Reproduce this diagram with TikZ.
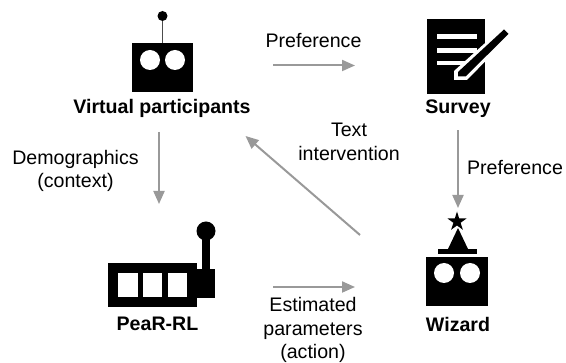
\documentclass[tikz,border=0pt]{standalone}
\usepackage{fontspec}
\setmainfont{Liberation Sans}
\usetikzlibrary{arrows.meta,shapes.geometric}
\definecolor{flow}{HTML}{999999}
\tikzset{
  x=1pt,y=-1pt,
  zone/.style={inner sep=0,outer sep=0,minimum width=#1},
  flowline/.style={draw=flow,line width=2pt,-{Triangle[length=13pt,width=11pt]}},
  name label/.style={font=\fontsize{19.6}{23.5}\selectfont\bfseries,inner sep=0},
  plain label/.style={font=\fontsize{19.6}{23.5}\selectfont,inner sep=0,align=center},
  ink/.style={fill=black,draw=none},
  hole/.style={fill=white,draw=none},
}
\begin{document}
\begin{tikzpicture}
\useasboundingbox (0,0) rectangle (566,363);
% invisible zones whose anchors carry the connectors
\node[zone=228pt,minimum height=133pt] (vz) at (159,65.5) {};
\node[zone=206pt,minimum height=130pt] (sz) at (458,65.5) {};
\node[zone=228pt,minimum height=166pt] (pz) at (159,287) {};
\node[zone=206pt,minimum height=158pt] (wz) at (458,287) {};
\coordinate (diagfrom) at (360,235);
\coordinate (diagto) at (245.5,136);
% robot
\draw[draw=black!70,line width=1.5pt] (162.5,43) -- (162.5,16);
\fill[ink] (162.5,16) circle (5);
\fill[ink] (132,43) rectangle (193,92);
\fill[hole] (150,60) circle (10);
\fill[hole] (175,60) circle (10);
% survey
\fill[ink] (427,19) rectangle (485,94);
\fill[hole] (437,34.5) rectangle (477,39.5);
\fill[hole] (437,48.5) rectangle (477,53.5);
\fill[hole] (437,61) rectangle (467,65.5);
\fill[hole] (504,26) -- (512,34) -- (467,80) -- (454,80) -- (454,71) -- cycle;
\fill[ink] (504,29.5) -- (508.5,34) -- (465.5,76.5) -- (458,76.5) -- (458,72) -- cycle;
% slot machine
\fill[ink] (108,263) rectangle (197,307);
\fill[hole] (118,273) rectangle (138,297);
\fill[hole] (143,273) rectangle (162,297);
\fill[hole] (168,273) rectangle (187,297);
\fill[ink] (197,269) rectangle (215,298);
\fill[ink] (202,269) rectangle (210,235);
\fill[ink] (206,231) circle (9.5);
% wizard
\fill[ink] (426,257) rectangle (488,306);
\fill[hole] (444,273) circle (10);
\fill[hole] (470,273) circle (10);
\fill[ink] (438,249) rectangle (477,254);
\fill[ink] (448,249) -- (468,249) -- (458,228) -- cycle;
\fill[ink] (457,211.5) -- (459.2,218.5) -- (466.5,218.5) -- (460.6,222.8) -- (462.9,229.8) -- (457,225.5) -- (451.1,229.8) -- (453.4,222.8) -- (447.5,218.5) -- (454.8,218.5) -- cycle;
% connectors
\draw[flowline] (vz.east) -- (sz.west);
\draw[flowline] (vz.south) -- (pz.north);
\draw[flowline] (sz.south) -- (wz.north);
\draw[flowline] (pz.east) -- (wz.west);
\draw[flowline] (diagfrom) -- (diagto);
% labels
\node[name label] (vpname) at (162,108) {Virtual participants};
\node[name label] (surveyname) at (458,109) {Survey};
\node[name label] (pearname) at (157.5,324) {PeaR-RL};
\node[name label] (wizname) at (458,324) {Wizard};
\node[plain label] (l1) at (313.5,41) {Preference};
\node[plain label] (l2) at (75.5,171) {Demographics\\(context)};
\node[plain label] (l3) at (349,142) {Text\\intervention};
\node[plain label] (l4) at (515,168) {Preference};
\node[plain label] (l5) at (313,330) {Estimated\\parameters\\(action)};
\end{tikzpicture}
\end{document}
